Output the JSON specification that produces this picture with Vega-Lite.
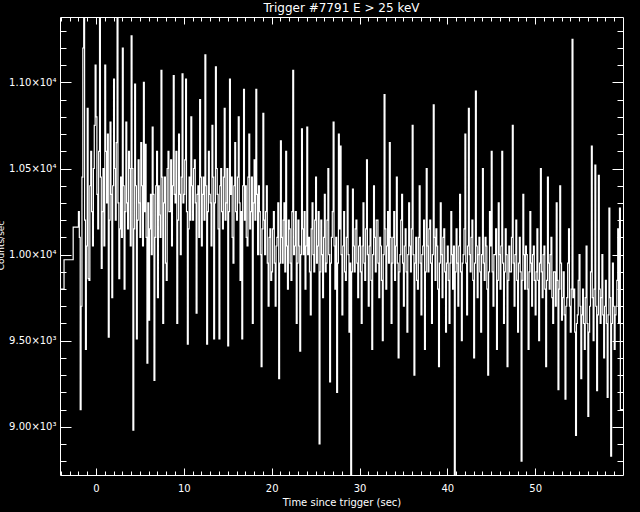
{
  "$schema": "https://vega.github.io/schema/vega-lite/v6.json",
  "width": 563,
  "height": 458,
  "autosize": {"type": "none"},
  "padding": {"left": 60, "top": 17, "right": 17, "bottom": 37},
  "background": "black",
  "title": {"text": "Trigger #7791 E > 25 keV", "color": "white", "font": "DejaVu Sans", "fontSize": 12, "fontWeight": "normal", "anchor": "middle", "offset": 2},
  "config": {
    "view": {"stroke": "white", "strokeWidth": 1},
    "axis": {"domain": false, "grid": false, "tickColor": "white", "labelColor": "white", "titleColor": "white", "tickWidth": 1, "labelFont": "DejaVu Sans", "titleFont": "DejaVu Sans", "labelFontSize": 10, "titleFontSize": 10, "titleFontWeight": "normal"}
  },
  "data": {"values": [
    {"t":-4.7,"c":9800},{"t":-3.64,"c":9970},{"t":-2.6,"c":10160},
    {"t":-2.0,"c":10250},{"t":-1.9,"c":10100},{"t":-1.8,"c":9100},{"t":-1.7,"c":9700},{"t":-1.6,"c":10450},{"t":-1.5,"c":11200},{"t":-1.4,"c":11400},{"t":-1.3,"c":10200},{"t":-1.2,"c":9450},{"t":-1.1,"c":10050},
    {"t":-1.0,"c":10850},{"t":-0.9,"c":9860},{"t":-0.8,"c":9850},{"t":-0.7,"c":10400},{"t":-0.6,"c":10600},{"t":-0.5,"c":10250},{"t":-0.4,"c":10050},{"t":-0.3,"c":10500},{"t":-0.2,"c":10750},{"t":-0.1,"c":11100},
    {"t":0.0,"c":10800},{"t":0.1,"c":10350},{"t":0.2,"c":10150},{"t":0.3,"c":10600},{"t":0.4,"c":11400},{"t":0.5,"c":10450},{"t":0.6,"c":9920},{"t":0.7,"c":10250},{"t":0.8,"c":10500},{"t":0.9,"c":10050},
    {"t":1.0,"c":11100},{"t":1.1,"c":10600},{"t":1.2,"c":10300},{"t":1.3,"c":10700},{"t":1.4,"c":9520},{"t":1.5,"c":10200},{"t":1.6,"c":10770},{"t":1.7,"c":10350},{"t":1.8,"c":9750},{"t":1.9,"c":10400},
    {"t":2.0,"c":11020},{"t":2.1,"c":10500},{"t":2.2,"c":10200},{"t":2.3,"c":10650},{"t":2.4,"c":11400},{"t":2.5,"c":10300},{"t":2.6,"c":9860},{"t":2.7,"c":10150},{"t":2.8,"c":10450},{"t":2.9,"c":10100},
    {"t":3.0,"c":11200},{"t":3.1,"c":10400},{"t":3.2,"c":9800},{"t":3.3,"c":10250},{"t":3.4,"c":10770},{"t":3.5,"c":10300},{"t":3.6,"c":10150},{"t":3.7,"c":10600},{"t":3.8,"c":10500},{"t":3.9,"c":10050},
    {"t":4.0,"c":11270},{"t":4.1,"c":10500},{"t":4.2,"c":8980},{"t":4.3,"c":10150},{"t":4.4,"c":10990},{"t":4.5,"c":10400},{"t":4.6,"c":9510},{"t":4.7,"c":10200},{"t":4.8,"c":10550},{"t":4.9,"c":10300},
    {"t":5.0,"c":10100},{"t":5.1,"c":10650},{"t":5.2,"c":10400},{"t":5.3,"c":10050},{"t":5.4,"c":11000},{"t":5.5,"c":10250},{"t":5.6,"c":10640},{"t":5.7,"c":10100},{"t":5.8,"c":9370},{"t":5.9,"c":10300},
    {"t":6.0,"c":9620},{"t":6.1,"c":10150},{"t":6.2,"c":10350},{"t":6.3,"c":10000},{"t":6.4,"c":10740},{"t":6.5,"c":10350},{"t":6.6,"c":9270},{"t":6.7,"c":10100},{"t":6.8,"c":10400},{"t":6.9,"c":10600},
    {"t":7.0,"c":9750},{"t":7.1,"c":10400},{"t":7.2,"c":10230},{"t":7.3,"c":10100},{"t":7.4,"c":11070},{"t":7.5,"c":10450},{"t":7.6,"c":9600},{"t":7.7,"c":10300},{"t":7.8,"c":10450},{"t":7.9,"c":9950},
    {"t":8.0,"c":9850},{"t":8.1,"c":10500},{"t":8.2,"c":10600},{"t":8.3,"c":10250},{"t":8.4,"c":10250},{"t":8.5,"c":10550},{"t":8.6,"c":10050},{"t":8.7,"c":10400},{"t":8.8,"c":11040},{"t":8.9,"c":10350},
    {"t":9.0,"c":10300},{"t":9.1,"c":10600},{"t":9.2,"c":9600},{"t":9.3,"c":10200},{"t":9.4,"c":10700},{"t":9.5,"c":10350},{"t":9.6,"c":10000},{"t":9.7,"c":10450},{"t":9.8,"c":11050},{"t":9.9,"c":10300},
    {"t":10.0,"c":10350},{"t":10.1,"c":10550},{"t":10.2,"c":11020},{"t":10.3,"c":10250},{"t":10.4,"c":9480},{"t":10.5,"c":10150},{"t":10.6,"c":10450},{"t":10.7,"c":10200},{"t":10.8,"c":10800},{"t":10.9,"c":10400},
    {"t":11.0,"c":10200},{"t":11.1,"c":10500},{"t":11.2,"c":10550},{"t":11.3,"c":10300},{"t":11.4,"c":9660},{"t":11.5,"c":10350},{"t":11.6,"c":10400},{"t":11.7,"c":10100},{"t":11.8,"c":10900},{"t":11.9,"c":10450},
    {"t":12.0,"c":10050},{"t":12.1,"c":10350},{"t":12.2,"c":10450},{"t":12.3,"c":10200},{"t":12.4,"c":11160},{"t":12.5,"c":10400},{"t":12.6,"c":9480},{"t":12.7,"c":10250},{"t":12.8,"c":10600},{"t":12.9,"c":10350},
    {"t":13.0,"c":10300},{"t":13.1,"c":10050},{"t":13.2,"c":10750},{"t":13.3,"c":10450},{"t":13.4,"c":9510},{"t":13.5,"c":10300},{"t":13.6,"c":11090},{"t":13.7,"c":10500},{"t":13.8,"c":10350},{"t":13.9,"c":10150},
    {"t":14.0,"c":9510},{"t":14.1,"c":10400},{"t":14.2,"c":10500},{"t":14.3,"c":10250},{"t":14.4,"c":10150},{"t":14.5,"c":10450},{"t":14.6,"c":10850},{"t":14.7,"c":10200},{"t":14.8,"c":10300},{"t":14.9,"c":10500},
    {"t":15.0,"c":9470},{"t":15.1,"c":10250},{"t":15.2,"c":11020},{"t":15.3,"c":10350},{"t":15.4,"c":10450},{"t":15.5,"c":10100},{"t":15.6,"c":9950},{"t":15.7,"c":10400},{"t":15.8,"c":10650},{"t":15.9,"c":10250},
    {"t":16.0,"c":10200},{"t":16.1,"c":10450},{"t":16.2,"c":10800},{"t":16.3,"c":10300},{"t":16.4,"c":9850},{"t":16.5,"c":10250},{"t":16.6,"c":9510},{"t":16.7,"c":10400},{"t":16.8,"c":10960},{"t":16.9,"c":10200},
    {"t":17.0,"c":10400},{"t":17.1,"c":10100},{"t":17.2,"c":10050},{"t":17.3,"c":10450},{"t":17.4,"c":10700},{"t":17.5,"c":10150},{"t":17.6,"c":10250},{"t":17.7,"c":10450},{"t":17.8,"c":9600},{"t":17.9,"c":10300},
    {"t":18.0,"c":10550},{"t":18.1,"c":10200},{"t":18.2,"c":10960},{"t":18.3,"c":10350},{"t":18.4,"c":10000},{"t":18.5,"c":10400},{"t":18.6,"c":10250},{"t":18.7,"c":10000},{"t":18.8,"c":9350},{"t":18.9,"c":10150},
    {"t":19.0,"c":10820},{"t":19.1,"c":10200},{"t":19.2,"c":10000},{"t":19.3,"c":10250},{"t":19.4,"c":10400},{"t":19.5,"c":9950},{"t":19.6,"c":9700},{"t":19.7,"c":10100},{"t":19.8,"c":10150},{"t":19.9,"c":9850},
    {"t":20.0,"c":9900},{"t":20.1,"c":10150},{"t":20.2,"c":10250},{"t":20.3,"c":9950},{"t":20.4,"c":9700},{"t":20.5,"c":10050},{"t":20.6,"c":10100},{"t":20.7,"c":10300},{"t":20.8,"c":9280},{"t":20.9,"c":9950},
    {"t":21.0,"c":10660},{"t":21.1,"c":10100},{"t":21.2,"c":9950},{"t":21.3,"c":10200},{"t":21.4,"c":10300},{"t":21.5,"c":9900},{"t":21.6,"c":10600},{"t":21.7,"c":10050},{"t":21.8,"c":9800},{"t":21.9,"c":10200},
    {"t":22.0,"c":10150},{"t":22.1,"c":9950},{"t":22.2,"c":9850},{"t":22.3,"c":10250},{"t":22.4,"c":11070},{"t":22.5,"c":10000},{"t":22.6,"c":10050},{"t":22.7,"c":10250},{"t":22.8,"c":9600},{"t":22.9,"c":9950},
    {"t":23.0,"c":10200},{"t":23.1,"c":10050},{"t":23.2,"c":9440},{"t":23.3,"c":10000},{"t":23.4,"c":10730},{"t":23.5,"c":10150},{"t":23.6,"c":10000},{"t":23.7,"c":10250},{"t":23.8,"c":9800},{"t":23.9,"c":10050},
    {"t":24.0,"c":10740},{"t":24.1,"c":10000},{"t":24.2,"c":10100},{"t":24.3,"c":9900},{"t":24.4,"c":9650},{"t":24.5,"c":10150},{"t":24.6,"c":10300},{"t":24.7,"c":10000},{"t":24.8,"c":9900},{"t":24.9,"c":10200},
    {"t":25.0,"c":10450},{"t":25.1,"c":9950},{"t":25.2,"c":10050},{"t":25.3,"c":10250},{"t":25.4,"c":8900},{"t":25.5,"c":9900},{"t":25.6,"c":10200},{"t":25.7,"c":10000},{"t":25.8,"c":9750},{"t":25.9,"c":10100},
    {"t":26.0,"c":10350},{"t":26.1,"c":9900},{"t":26.2,"c":9950},{"t":26.3,"c":10200},{"t":26.4,"c":10500},{"t":26.5,"c":10000},{"t":26.6,"c":9260},{"t":26.7,"c":9950},{"t":26.8,"c":10100},{"t":26.9,"c":10250},
    {"t":27.0,"c":10770},{"t":27.1,"c":10050},{"t":27.2,"c":9800},{"t":27.3,"c":10100},{"t":27.4,"c":9200},{"t":27.5,"c":9950},{"t":27.6,"c":10700},{"t":27.7,"c":10150},{"t":27.8,"c":10630},{"t":27.9,"c":10000},
    {"t":28.0,"c":9650},{"t":28.1,"c":10050},{"t":28.2,"c":10250},{"t":28.3,"c":9900},{"t":28.4,"c":9850},{"t":28.5,"c":10100},{"t":28.6,"c":10400},{"t":28.7,"c":10000},{"t":28.8,"c":9550},{"t":28.9,"c":9950},
    {"t":29.0,"c":8700},{"t":29.1,"c":9900},{"t":29.2,"c":10380},{"t":29.3,"c":10050},{"t":29.4,"c":9900},{"t":29.5,"c":10150},{"t":29.6,"c":10200},{"t":29.7,"c":9950},{"t":29.8,"c":9750},{"t":29.9,"c":10050},
    {"t":30.0,"c":10100},{"t":30.1,"c":9900},{"t":30.2,"c":9600},{"t":30.3,"c":10050},{"t":30.4,"c":10300},{"t":30.5,"c":9950},{"t":30.6,"c":9850},{"t":30.7,"c":10150},{"t":30.8,"c":10550},{"t":30.9,"c":10000},
    {"t":31.0,"c":9700},{"t":31.1,"c":10050},{"t":31.2,"c":10150},{"t":31.3,"c":9850},{"t":31.4,"c":9450},{"t":31.5,"c":10000},{"t":31.6,"c":10400},{"t":31.7,"c":10100},{"t":31.8,"c":9900},{"t":31.9,"c":10200},
    {"t":32.0,"c":10200},{"t":32.1,"c":9950},{"t":32.2,"c":9750},{"t":32.3,"c":10100},{"t":32.4,"c":10050},{"t":32.5,"c":9850},{"t":32.6,"c":9500},{"t":32.7,"c":10000},{"t":32.8,"c":10930},{"t":32.9,"c":10150},
    {"t":33.0,"c":9800},{"t":33.1,"c":10050},{"t":33.2,"c":10250},{"t":33.3,"c":9950},{"t":33.4,"c":10650},{"t":33.5,"c":10100},{"t":33.6,"c":9600},{"t":33.7,"c":9950},{"t":33.8,"c":10100},{"t":33.9,"c":10250},
    {"t":34.0,"c":9850},{"t":34.1,"c":10050},{"t":34.2,"c":10450},{"t":34.3,"c":9950},{"t":34.4,"c":9400},{"t":34.5,"c":9900},{"t":34.6,"c":10000},{"t":34.7,"c":10200},{"t":34.8,"c":10350},{"t":34.9,"c":9950},
    {"t":35.0,"c":9700},{"t":35.1,"c":10050},{"t":35.2,"c":10150},{"t":35.3,"c":9900},{"t":35.4,"c":9550},{"t":35.5,"c":10000},{"t":35.6,"c":10300},{"t":35.7,"c":10050},{"t":35.8,"c":9900},{"t":35.9,"c":10150},
    {"t":36.0,"c":10750},{"t":36.1,"c":10000},{"t":36.2,"c":9300},{"t":36.3,"c":9950},{"t":36.4,"c":10100},{"t":36.5,"c":9850},{"t":36.6,"c":9800},{"t":36.7,"c":10100},{"t":36.8,"c":10400},{"t":36.9,"c":9950},
    {"t":37.0,"c":9650},{"t":37.1,"c":10000},{"t":37.2,"c":10050},{"t":37.3,"c":10200},{"t":37.4,"c":9450},{"t":37.5,"c":9900},{"t":37.6,"c":10500},{"t":37.7,"c":10050},{"t":37.8,"c":9900},{"t":37.9,"c":10150},
    {"t":38.0,"c":10200},{"t":38.1,"c":9950},{"t":38.2,"c":9600},{"t":38.3,"c":10000},{"t":38.4,"c":10870},{"t":38.5,"c":10100},{"t":38.6,"c":9850},{"t":38.7,"c":10150},{"t":38.8,"c":10050},{"t":38.9,"c":9800},
    {"t":39.0,"c":9350},{"t":39.1,"c":9950},{"t":39.2,"c":10300},{"t":39.3,"c":10000},{"t":39.4,"c":9750},{"t":39.5,"c":10100},{"t":39.6,"c":10150},{"t":39.7,"c":9900},{"t":39.8,"c":9550},{"t":39.9,"c":9950},
    {"t":40.0,"c":10050},{"t":40.1,"c":9850},{"t":40.2,"c":9600},{"t":40.3,"c":9950},{"t":40.4,"c":10250},{"t":40.5,"c":10000},{"t":40.6,"c":9800},{"t":40.7,"c":10050},{"t":40.8,"c":8700},{"t":40.9,"c":9900},
    {"t":41.0,"c":10150},{"t":41.1,"c":9950},{"t":41.2,"c":9700},{"t":41.3,"c":10050},{"t":41.4,"c":10350},{"t":41.5,"c":9900},{"t":41.6,"c":9500},{"t":41.7,"c":9950},{"t":41.8,"c":10000},{"t":41.9,"c":10150},
    {"t":42.0,"c":10700},{"t":42.1,"c":9950},{"t":42.2,"c":9650},{"t":42.3,"c":10050},{"t":42.4,"c":10850},{"t":42.5,"c":10000},{"t":42.6,"c":9900},{"t":42.7,"c":10100},{"t":42.8,"c":10200},{"t":42.9,"c":9850},
    {"t":43.0,"c":9400},{"t":43.1,"c":9950},{"t":43.2,"c":10950},{"t":43.3,"c":10050},{"t":43.4,"c":9750},{"t":43.5,"c":10000},{"t":43.6,"c":10100},{"t":43.7,"c":9900},{"t":43.8,"c":9550},{"t":43.9,"c":10000},
    {"t":44.0,"c":10500},{"t":44.1,"c":9950},{"t":44.2,"c":9850},{"t":44.3,"c":10100},{"t":44.4,"c":10050},{"t":44.5,"c":9800},{"t":44.6,"c":9300},{"t":44.7,"c":9900},{"t":44.8,"c":10250},{"t":44.9,"c":10050},
    {"t":45.0,"c":10600},{"t":45.1,"c":9900},{"t":45.2,"c":9700},{"t":45.3,"c":10000},{"t":45.4,"c":10000},{"t":45.5,"c":10150},{"t":45.6,"c":9450},{"t":45.7,"c":9850},{"t":45.8,"c":10300},{"t":45.9,"c":10000},
    {"t":46.0,"c":9800},{"t":46.1,"c":10050},{"t":46.2,"c":10600},{"t":46.3,"c":9950},{"t":46.4,"c":9600},{"t":46.5,"c":9900},{"t":46.6,"c":10150},{"t":46.7,"c":10000},{"t":46.8,"c":9350},{"t":46.9,"c":9850},
    {"t":47.0,"c":10050},{"t":47.1,"c":9900},{"t":47.2,"c":9900},{"t":47.3,"c":10100},{"t":47.4,"c":10750},{"t":47.5,"c":9950},{"t":47.6,"c":9700},{"t":47.7,"c":10000},{"t":47.8,"c":10200},{"t":47.9,"c":9850},
    {"t":48.0,"c":9550},{"t":48.1,"c":9950},{"t":48.2,"c":10100},{"t":48.3,"c":9900},{"t":48.4,"c":8800},{"t":48.5,"c":9850},{"t":48.6,"c":10350},{"t":48.7,"c":10000},{"t":48.8,"c":9800},{"t":48.9,"c":10050},
    {"t":49.0,"c":10000},{"t":49.1,"c":9800},{"t":49.2,"c":9450},{"t":49.3,"c":9900},{"t":49.4,"c":10250},{"t":49.5,"c":9950},{"t":49.6,"c":9700},{"t":49.7,"c":10000},{"t":49.8,"c":10050},{"t":49.9,"c":9850},
    {"t":50.0,"c":9650},{"t":50.1,"c":9900},{"t":50.2,"c":10150},{"t":50.3,"c":9850},{"t":50.4,"c":9500},{"t":50.5,"c":9950},{"t":50.6,"c":10500},{"t":50.7,"c":9900},{"t":50.8,"c":9750},{"t":50.9,"c":10000},
    {"t":51.0,"c":10050},{"t":51.1,"c":9800},{"t":51.2,"c":9350},{"t":51.3,"c":9850},{"t":51.4,"c":10450},{"t":51.5,"c":9950},{"t":51.6,"c":9800},{"t":51.7,"c":10000},{"t":51.8,"c":10100},{"t":51.9,"c":9750},
    {"t":52.0,"c":9600},{"t":52.1,"c":9900},{"t":52.2,"c":9900},{"t":52.3,"c":9700},{"t":52.4,"c":10300},{"t":52.5,"c":9850},{"t":52.6,"c":9215},{"t":52.7,"c":9800},{"t":52.8,"c":10400},{"t":52.9,"c":9950},
    {"t":53.0,"c":9620},{"t":53.1,"c":9750},{"t":53.2,"c":9900},{"t":53.3,"c":9650},{"t":53.4,"c":9160},{"t":53.5,"c":9700},{"t":53.6,"c":9750},{"t":53.7,"c":9950},{"t":53.8,"c":10150},{"t":53.9,"c":9700},
    {"t":54.0,"c":9550},{"t":54.1,"c":9800},{"t":54.2,"c":11250},{"t":54.3,"c":9750},{"t":54.4,"c":9800},{"t":54.5,"c":9550},{"t":54.6,"c":8950},{"t":54.7,"c":9600},{"t":54.8,"c":9650},{"t":54.9,"c":9850},
    {"t":55.0,"c":10000},{"t":55.1,"c":9700},{"t":55.2,"c":9280},{"t":55.3,"c":9650},{"t":55.4,"c":9800},{"t":55.5,"c":9600},{"t":55.6,"c":9450},{"t":55.7,"c":9750},{"t":55.8,"c":10050},{"t":55.9,"c":9600},
    {"t":56.0,"c":9060},{"t":56.1,"c":9550},{"t":56.2,"c":9700},{"t":56.3,"c":9900},{"t":56.4,"c":10630},{"t":56.5,"c":9750},{"t":56.6,"c":9500},{"t":56.7,"c":9800},{"t":56.8,"c":10520},{"t":56.9,"c":9700},
    {"t":57.0,"c":9210},{"t":57.1,"c":9650},{"t":57.2,"c":10460},{"t":57.3,"c":9800},{"t":57.4,"c":9600},{"t":57.5,"c":9750},{"t":57.6,"c":10000},{"t":57.7,"c":9650},{"t":57.8,"c":9400},{"t":57.9,"c":9700},
    {"t":58.0,"c":9850},{"t":58.1,"c":9600},{"t":58.2,"c":9170},{"t":58.3,"c":9650},{"t":58.4,"c":10270},{"t":58.5,"c":9750},{"t":58.6,"c":8830},{"t":58.7,"c":9600},{"t":58.8,"c":9950},{"t":58.9,"c":9700},
    {"t":59.0,"c":9450},{"t":59.1,"c":9650},{"t":59.2,"c":9700},{"t":59.3,"c":9850},{"t":59.4,"c":10150},{"t":59.5,"c":9600},{"t":59.6,"c":10270},{"t":59.7,"c":9100},{"t":59.8,"c":9100},{"t":60.0,"c":9100}
  ]},
  "resolve": {"axis": {"x": "independent", "y": "independent"}},
  "layer": [
    {
      "mark": {"type": "line", "interpolate": "step-after", "color": "white", "strokeWidth": 1.2, "clip": true},
      "encoding": {
        "x": {"field": "t", "type": "quantitative", "scale": {"domain": [-4.1, 60], "nice": false, "zero": false},
          "axis": {"orient": "bottom", "values": [0, 10, 20, 30, 40, 50], "tickSize": -7, "labelPadding": 15, "title": "Time since trigger (sec)", "titlePadding": 4}},
        "y": {"field": "c", "type": "quantitative", "scale": {"domain": [8720, 11380], "nice": false, "zero": false},
          "axis": {"orient": "left", "values": [9000, 9500, 10000, 10500, 11000], "tickSize": -11, "labelPadding": 15,
            "labelExpr": "datum.value >= 10000 ? format(datum.value/10000, '.2f') + '×10⁴' : format(datum.value/1000, '.2f') + '×10³'",
            "title": "Counts/sec", "titleFontSize": 9, "titleX": -55, "titleY": 228, "titleAngle": -90, "titleBaseline": "bottom", "titleAlign": "center"}}
      }
    },
    {
      "mark": {"type": "line", "strokeOpacity": 0, "clip": true},
      "encoding": {
        "x": {"field": "t", "type": "quantitative", "scale": {"domain": [-4.1, 60], "nice": false, "zero": false},
          "axis": {"orient": "bottom", "values": [-4,-3,-2,-1,1,2,3,4,5,6,7,8,9,11,12,13,14,15,16,17,18,19,21,22,23,24,25,26,27,28,29,31,32,33,34,35,36,37,38,39,41,42,43,44,45,46,47,48,49,51,52,53,54,55,56,57,58,59], "tickSize": -4, "labels": false, "title": null}},
        "y": {"field": "c", "type": "quantitative", "scale": {"domain": [8720, 11380], "nice": false, "zero": false},
          "axis": {"orient": "left", "values": [8800,8900,9100,9200,9300,9400,9600,9700,9800,9900,10100,10200,10300,10400,10600,10700,10800,10900,11100,11200,11300], "tickSize": -6, "labels": false, "title": null}}
      }
    },
    {
      "mark": {"type": "line", "strokeOpacity": 0, "clip": true},
      "encoding": {
        "x": {"field": "t", "type": "quantitative", "scale": {"domain": [-4.1, 60], "nice": false, "zero": false},
          "axis": {"orient": "top", "values": [0, 10, 20, 30, 40, 50], "tickSize": -7, "labels": false, "title": null}},
        "y": {"field": "c", "type": "quantitative", "scale": {"domain": [8720, 11380], "nice": false, "zero": false},
          "axis": {"orient": "right", "values": [9000, 9500, 10000, 10500, 11000], "tickSize": -11, "labels": false, "title": null}}
      }
    },
    {
      "mark": {"type": "line", "strokeOpacity": 0, "clip": true},
      "encoding": {
        "x": {"field": "t", "type": "quantitative", "scale": {"domain": [-4.1, 60], "nice": false, "zero": false},
          "axis": {"orient": "top", "values": [-4,-3,-2,-1,1,2,3,4,5,6,7,8,9,11,12,13,14,15,16,17,18,19,21,22,23,24,25,26,27,28,29,31,32,33,34,35,36,37,38,39,41,42,43,44,45,46,47,48,49,51,52,53,54,55,56,57,58,59], "tickSize": -4, "labels": false, "title": null}},
        "y": {"field": "c", "type": "quantitative", "scale": {"domain": [8720, 11380], "nice": false, "zero": false},
          "axis": {"orient": "right", "values": [8800,8900,9100,9200,9300,9400,9600,9700,9800,9900,10100,10200,10300,10400,10600,10700,10800,10900,11100,11200,11300], "tickSize": -6, "labels": false, "title": null}}
      }
    }
  ]
}
